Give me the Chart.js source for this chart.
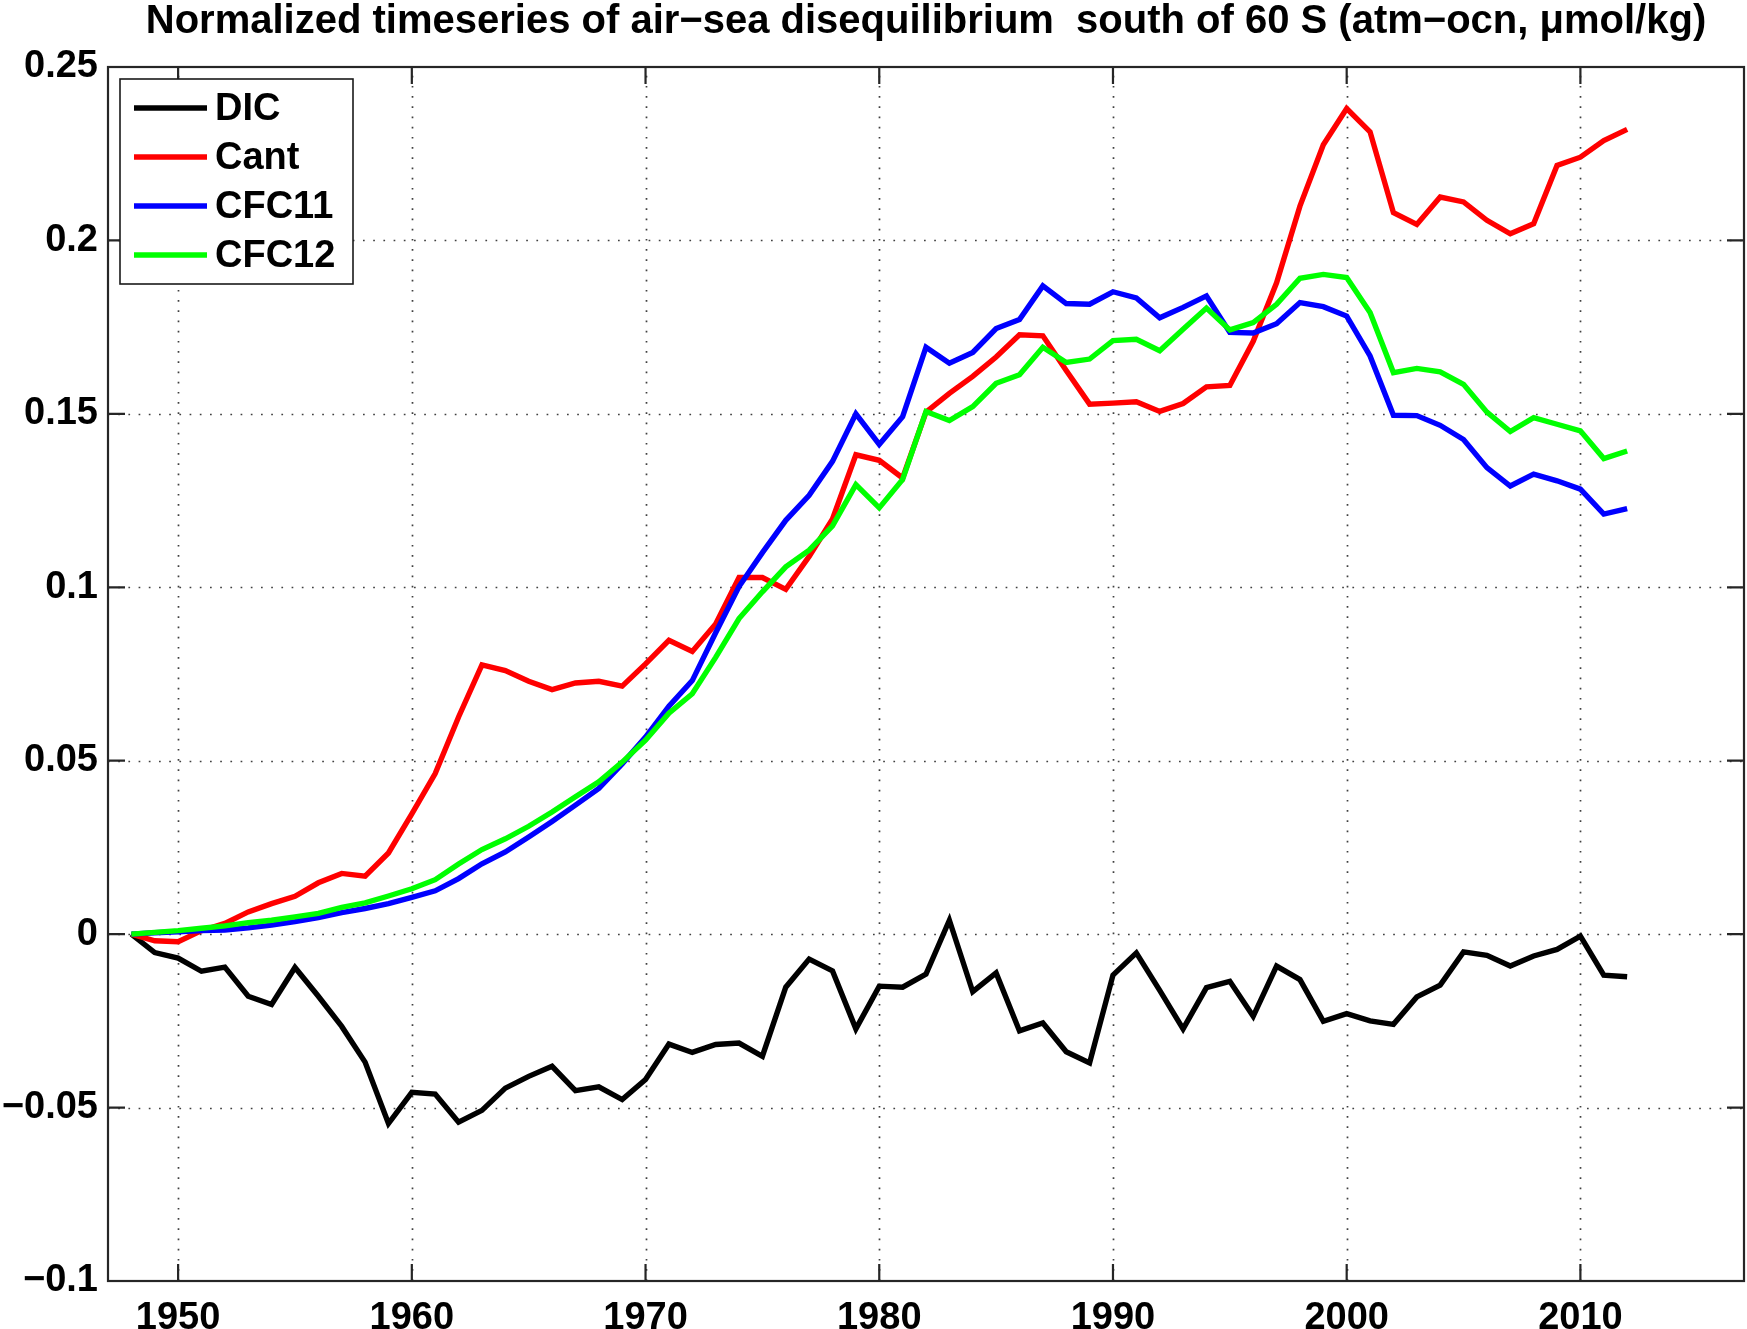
<!DOCTYPE html>
<html>
<head>
<meta charset="utf-8">
<script src="https://cdn.jsdelivr.net/npm/chart.js@4.4.1/dist/chart.umd.min.js"></script>
<style>
  html, body { margin: 0; padding: 0; background: #fff; }
  #wrap { width: 1747px; height: 1329px; }
</style>
</head>
<body>
<div id="wrap"><canvas id="chart" width="1747" height="1329"></canvas></div>
<script>
const years = [1948, 1949, 1950, 1951, 1952, 1953, 1954, 1955, 1956, 1957,
  1958, 1959, 1960, 1961, 1962, 1963, 1964, 1965, 1966, 1967,
  1968, 1969, 1970, 1971, 1972, 1973, 1974, 1975, 1976, 1977,
  1978, 1979, 1980, 1981, 1982, 1983, 1984, 1985, 1986, 1987,
  1988, 1989, 1990, 1991, 1992, 1993, 1994, 1995, 1996, 1997,
  1998, 1999, 2000, 2001, 2002, 2003, 2004, 2005, 2006, 2007,
  2008, 2009, 2010, 2011, 2012];

const dic = [0, -0.0053, -0.0069, -0.0107, -0.0095, -0.0179, -0.0203, -0.0096, -0.0179, -0.0266,
  -0.0369, -0.0546, -0.0456, -0.0461, -0.0542, -0.0508, -0.0444, -0.0410, -0.0381, -0.0451,
  -0.0440, -0.0477, -0.0419, -0.0317, -0.0341, -0.0318, -0.0314, -0.0352, -0.0153, -0.0072,
  -0.0106, -0.0273, -0.0150, -0.0153, -0.0115, 0.0040, -0.0166, -0.0112, -0.0279, -0.0256,
  -0.0339, -0.0371, -0.0118, -0.0054, -0.0162, -0.0273, -0.0154, -0.0136, -0.0237, -0.0092,
  -0.0131, -0.0251, -0.0229, -0.0250, -0.0260, -0.0181, -0.0147, -0.0051, -0.0061, -0.0092,
  -0.0063, -0.0044, -0.0006, -0.0118, -0.0123];

const cant = [0, -0.0019, -0.0022, 0.0010, 0.0031, 0.0064, 0.0088, 0.0109, 0.0148, 0.0175,
  0.0167, 0.0234, 0.0347, 0.0463, 0.0626, 0.0776, 0.0760, 0.0729, 0.0705, 0.0724,
  0.0729, 0.0715, 0.0779, 0.0847, 0.0815, 0.0894, 0.1028, 0.1028, 0.0994, 0.1089,
  0.1197, 0.1382, 0.1366, 0.1315, 0.1505, 0.1559, 0.1608, 0.1664, 0.1728, 0.1725,
  0.1625, 0.1528, 0.1531, 0.1535, 0.1507, 0.1530, 0.1578, 0.1582, 0.1709, 0.1878,
  0.2099, 0.2276, 0.2380, 0.2313, 0.2080, 0.2046, 0.2125, 0.2111, 0.2058, 0.2019,
  0.2048, 0.2216, 0.2240, 0.2288, 0.2320];

const cfc11 = [0, 0.0004, 0.0007, 0.0010, 0.0012, 0.0018, 0.0026, 0.0036, 0.0048, 0.0062,
  0.0074, 0.0088, 0.0106, 0.0125, 0.0160, 0.0203, 0.0237, 0.0280, 0.0325, 0.0372,
  0.0420, 0.0491, 0.0568, 0.0657, 0.0731, 0.0869, 0.1002, 0.1100, 0.1193, 0.1265,
  0.1363, 0.1500, 0.1412, 0.1492, 0.1692, 0.1646, 0.1677, 0.1746, 0.1772, 0.1869,
  0.1818, 0.1816, 0.1852, 0.1834, 0.1777, 0.1807, 0.1840, 0.1735, 0.1733, 0.1760,
  0.1821, 0.1809, 0.1782, 0.1667, 0.1496, 0.1495, 0.1467, 0.1426, 0.1345, 0.1292,
  0.1326, 0.1307, 0.1283, 0.1211, 0.1227];

const cfc12 = [0, 0.0005, 0.0010, 0.0017, 0.0024, 0.0033, 0.0040, 0.0050, 0.0060, 0.0077,
  0.0090, 0.0110, 0.0131, 0.0157, 0.0202, 0.0244, 0.0275, 0.0311, 0.0352, 0.0396,
  0.0439, 0.0496, 0.0559, 0.0637, 0.0693, 0.0798, 0.0910, 0.0987, 0.1059, 0.1107,
  0.1177, 0.1296, 0.1229, 0.1311, 0.1507, 0.1481, 0.1521, 0.1588, 0.1613, 0.1692,
  0.1648, 0.1658, 0.1711, 0.1715, 0.1682, 0.1744, 0.1805, 0.1742, 0.1763, 0.1816,
  0.1891, 0.1902, 0.1893, 0.1792, 0.1619, 0.1631, 0.1621, 0.1585, 0.1505, 0.1449,
  0.1489, 0.1470, 0.1451, 0.1371, 0.1393];

const seriesNames = ['DIC', 'Cant', 'CFC11', 'CFC12'];
const seriesColors = ['#000000', '#ff0000', '#0000ff', '#00ff00'];

const xTicks = [1950, 1960, 1970, 1980, 1990, 2000, 2010];
const yTicks = [-0.1, -0.05, 0, 0.05, 0.1, 0.15, 0.2, 0.25];
const yTickLabels = ['\u22120.1', '\u22120.05', '0', '0.05', '0.1', '0.15', '0.2', '0.25'];

const titleText = 'Normalized timeseries of air\u2212sea disequilibrium  south of 60 S (atm\u2212ocn, \u03bcmol/kg)';

const FONT = "'Liberation Sans', Arial, Helvetica, sans-serif";
const FS = 38;
const LW = 5.4;

function pairs(vals) {
  return years.map((yr, i) => ({ x: yr, y: vals[i] }));
}

// matlab style axes: dotted grid, box, inward tick marks, boxed legend
const matlabAxes = {
  id: 'matlabAxes',
  beforeDatasetsDraw(chart) {
    const { ctx, chartArea: a, scales: { x, y } } = chart;
    ctx.save();
    ctx.strokeStyle = '#404040';
    ctx.lineWidth = 1.7;
    ctx.setLineDash([1.7, 8.5]);
    for (const v of xTicks) {
      const px = Math.round(x.getPixelForValue(v)) + 0.5;
      ctx.beginPath();
      ctx.moveTo(px, a.bottom);
      ctx.lineTo(px, a.top);
      ctx.stroke();
    }
    for (const v of yTicks) {
      if (v === y.min || v === y.max) continue;
      const py = Math.round(y.getPixelForValue(v)) + 0.5;
      ctx.beginPath();
      ctx.moveTo(a.left, py);
      ctx.lineTo(a.right, py);
      ctx.stroke();
    }
    ctx.restore();
  },
  afterDatasetsDraw(chart) {
    const { ctx, chartArea: a, scales: { x, y } } = chart;
    const tl = 17;
    ctx.save();
    ctx.strokeStyle = '#262626';
    ctx.lineWidth = 2.2;
    ctx.strokeRect(a.left, a.top, a.right - a.left, a.bottom - a.top);
    ctx.beginPath();
    for (const v of xTicks) {
      const px = x.getPixelForValue(v);
      ctx.moveTo(px, a.bottom); ctx.lineTo(px, a.bottom - tl);
      ctx.moveTo(px, a.top); ctx.lineTo(px, a.top + tl);
    }
    for (const v of yTicks) {
      const py = y.getPixelForValue(v);
      ctx.moveTo(a.left, py); ctx.lineTo(a.left + tl, py);
      ctx.moveTo(a.right, py); ctx.lineTo(a.right - tl, py);
    }
    ctx.stroke();
    ctx.restore();
  },
  afterDraw(chart) {
    const { ctx, chartArea: a } = chart;
    const bx = a.left + 12, by = a.top + 12, bw = 233, bh = 205;
    ctx.save();
    ctx.fillStyle = '#fff';
    ctx.fillRect(bx, by, bw, bh);
    ctx.strokeStyle = '#1a1a1a';
    ctx.lineWidth = 1.6;
    ctx.strokeRect(bx, by, bw, bh);
    ctx.font = 'bold ' + FS + 'px ' + FONT;
    ctx.textBaseline = 'middle';
    ctx.textAlign = 'left';
    chart.data.datasets.forEach((ds, i) => {
      const ly = by + 29 + i * 49;
      ctx.strokeStyle = ds.borderColor;
      ctx.lineWidth = LW;
      ctx.beginPath();
      ctx.moveTo(bx + 14, ly);
      ctx.lineTo(bx + 87, ly);
      ctx.stroke();
      ctx.fillStyle = '#000';
      ctx.fillText(ds.label, bx + 95, ly + 2);
    });
    ctx.restore();
  }
};

new Chart(document.getElementById('chart'), {
  type: 'line',
  data: {
    datasets: seriesNames.map((name, i) => ({
      label: name,
      data: pairs([dic, cant, cfc11, cfc12][i]),
      borderColor: seriesColors[i],
      backgroundColor: seriesColors[i],
      borderWidth: LW,
      pointRadius: 0,
      tension: 0,
      fill: false,
      order: 4 - i
    }))
  },
  options: {
    responsive: false,
    animation: false,
    devicePixelRatio: 1,
    layout: { padding: { left: 0, right: 3, top: 0, bottom: 0 } },
    plugins: {
      legend: { display: false },
      tooltip: { enabled: false },
      title: {
        display: true,
        text: titleText,
        fullSize: false,
        color: '#000',
        font: { family: FONT, size: 40, weight: 'bold', lineHeight: 1.0 },
        padding: { top: 2, bottom: 25 }
      }
    },
    scales: {
      x: {
        type: 'linear',
        min: 1947,
        max: 2017,
        afterBuildTicks: s => { s.ticks = xTicks.map(v => ({ value: v })); },
        afterFit: s => { s.height = 48; },
        grid: { display: false, drawTicks: false },
        border: { display: false },
        ticks: {
          autoSkip: false,
          maxRotation: 0,
          padding: 15,
          color: '#000',
          font: { family: FONT, size: FS, weight: 'bold' },
          callback: v => String(v)
        }
      },
      y: {
        type: 'linear',
        min: -0.1,
        max: 0.25,
        afterBuildTicks: s => { s.ticks = yTicks.map(v => ({ value: v })); },
        afterFit: s => { s.width = 108; },
        grid: { display: false, drawTicks: false },
        border: { display: false },
        ticks: {
          autoSkip: false,
          padding: 10,
          color: '#000',
          font: { family: FONT, size: FS, weight: 'bold' },
          callback: (v, i) => yTickLabels[i]
        }
      }
    }
  },
  plugins: [matlabAxes]
});
</script>
</body>
</html>
